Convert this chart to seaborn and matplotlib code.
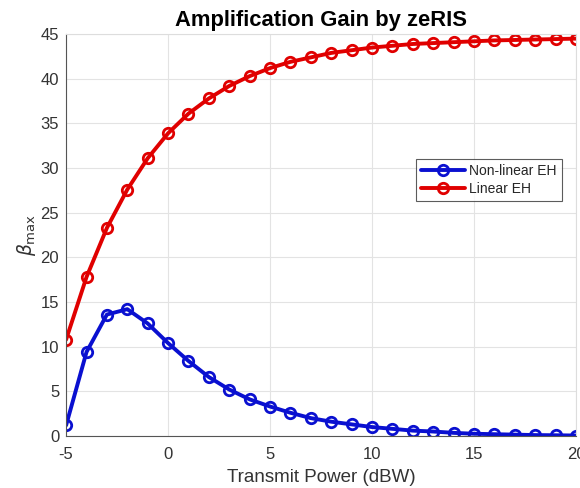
import matplotlib
matplotlib.use("Agg")
import matplotlib.pyplot as plt
import seaborn as sns
import pandas as pd

# transmit power grid (dBW)
power_dbw = list(range(-5, 21))

# beta_max
beta_nonlinear = [1.2, 9.4, 13.6, 14.2, 12.6, 10.4, 8.4, 6.6, 5.2, 4.1, 3.3, 2.6, 2.0,
                  1.6, 1.3, 1.0, 0.8, 0.6, 0.5, 0.35, 0.25, 0.2, 0.15, 0.1, 0.08, 0.05]
beta_linear = [10.8, 17.8, 23.3, 27.6, 31.1, 33.9, 36.1, 37.8, 39.2, 40.3, 41.2, 41.9, 42.4,
               42.9, 43.2, 43.5, 43.7, 43.9, 44.0, 44.1, 44.2, 44.3, 44.35, 44.4, 44.45, 44.5]

series_names = ["Non-linear EH", "Linear EH"]
series_colors = {"Non-linear EH": "#0a10d0", "Linear EH": "#e00000"}

df = pd.concat([
    pd.DataFrame({"power": power_dbw, "beta": beta_nonlinear, "model": series_names[0]}),
    pd.DataFrame({"power": power_dbw, "beta": beta_linear, "model": series_names[1]}),
])

sns.set_style("whitegrid")
plt.rcParams['font.family'] = ['Liberation Sans', 'DejaVu Sans']
plt.rcParams['axes.unicode_minus'] = False

fig = plt.figure(figsize=(5.8, 4.88), dpi=100)
ax = fig.add_axes([0.114, 0.1066, 0.879, 0.8234])

sns.lineplot(data=df, x="power", y="beta", hue="model", hue_order=series_names,
             palette=series_colors, marker="o", markersize=7.5, markerfacecolor="none",
             markeredgewidth=2, linewidth=2.8, ax=ax)
for line in ax.lines:
    line.set_markeredgecolor(line.get_color())

ax.set_xlim(-5, 20)
ax.set_ylim(0, 45)
ax.set_xticks(range(-5, 21, 5))
ax.set_yticks(range(0, 46, 5))
ax.grid(True, color="#e3e3e3", linewidth=0.8)
for side in ["left", "bottom"]:
    ax.spines[side].set_color("#555555")
for side in ["top", "right"]:
    ax.spines[side].set_color("#dddddd")
for s in ax.spines.values():
    s.set_linewidth(0.8)
ax.tick_params(axis="both", labelsize=12, colors="#333333", length=0)
ax.tick_params(axis="x", pad=8)
ax.tick_params(axis="y", pad=5)

ax.set_title("Amplification Gain by zeRIS", fontsize=15.8, fontweight="bold", pad=6,
             color="black")
ax.set_xlabel("Transmit Power (dBW)", fontsize=13.5, color="#333333", labelpad=5)
ax.set_ylabel(r"$\beta_{\rm max}$", fontsize=13.5, color="#333333", labelpad=2)

leg = ax.legend(loc="upper left", bbox_to_anchor=(0.686, 0.69), fontsize=10,
                frameon=True, fancybox=False, borderpad=0.35, handlelength=3.2,
                handletextpad=0.3, labelspacing=0.3, borderaxespad=0)
leg.get_frame().set_edgecolor("#333333")
leg.get_frame().set_linewidth(0.8)
for h in leg.get_lines():
    h.set_markerfacecolor("none")
    h.set_markeredgecolor(h.get_color())

fig.savefig("out.png", dpi=100)
